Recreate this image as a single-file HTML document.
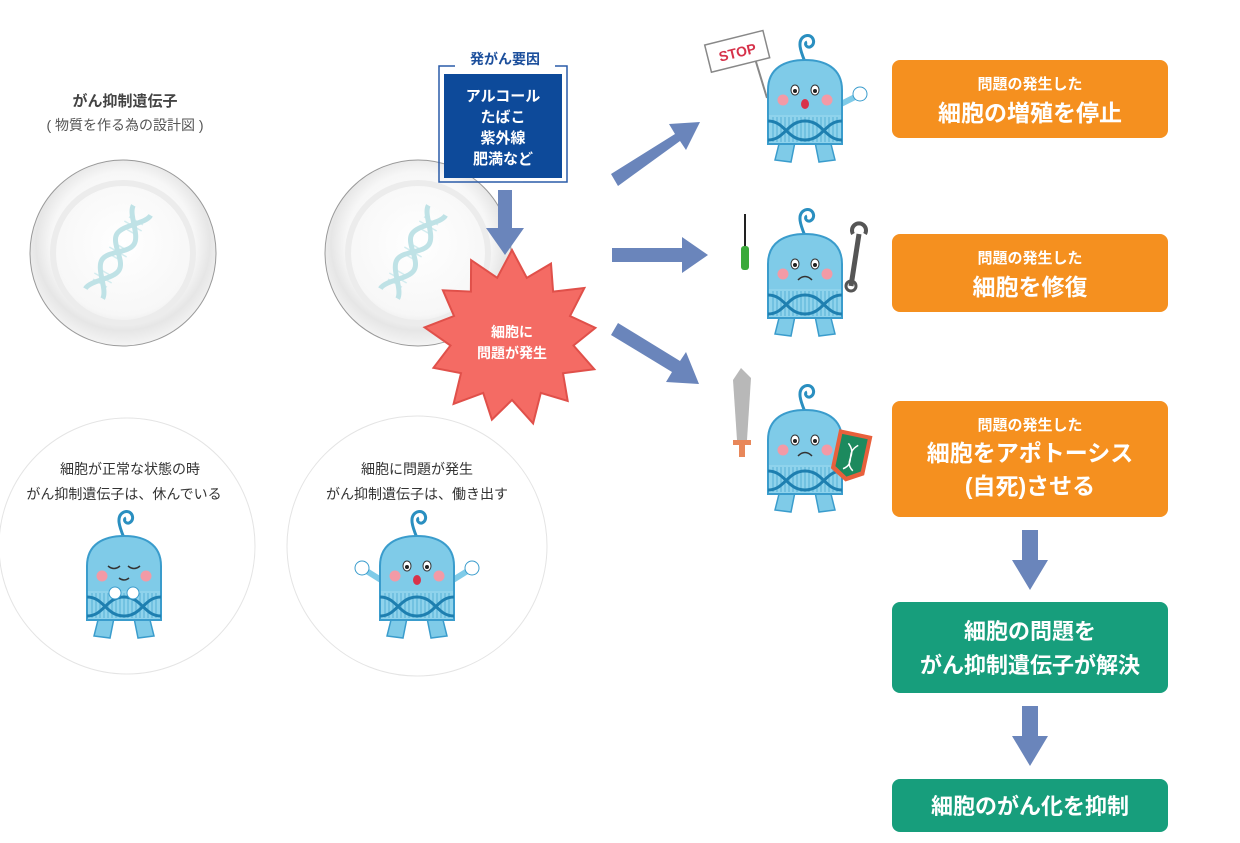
<!DOCTYPE html>
<html><head><meta charset="utf-8"><style>
html,body{margin:0;padding:0;background:#fff;}
svg{display:block;}
text{font-family:"Liberation Sans","Noto Sans CJK JP",sans-serif;}
</style></head><body>
<svg width="1240" height="843" viewBox="0 0 1240 843" xmlns="http://www.w3.org/2000/svg">
<defs>
<radialGradient id="plate" cx="50%" cy="45%" r="55%">
<stop offset="0" stop-color="#ffffff"/><stop offset="0.7" stop-color="#f7f7f7"/><stop offset="0.85" stop-color="#e6e6e6"/><stop offset="1" stop-color="#f4f4f4"/>
</radialGradient>
<g id="dna">
<g transform="rotate(30)">
<g stroke="#d3ecef" stroke-width="1.5">
<line x1="-8" y1="-36" x2="8" y2="-36"/><line x1="-10" y1="-30" x2="10" y2="-30"/><line x1="-8" y1="-24" x2="8" y2="-24"/>
<line x1="-8" y1="-6" x2="8" y2="-6"/><line x1="-10" y1="0" x2="10" y2="0"/><line x1="-8" y1="6" x2="8" y2="6"/>
<line x1="-8" y1="24" x2="8" y2="24"/><line x1="-10" y1="30" x2="10" y2="30"/><line x1="-8" y1="36" x2="8" y2="36"/></g>
<path d="M-10,-48 C-10,-38 10,-26 10,-15 C10,-4 -10,4 -10,15 C-10,26 10,38 10,48" stroke="#bfe2e6" stroke-width="5" fill="none"/>
<path d="M10,-48 C10,-38 -10,-26 -10,-15 C-10,-4 10,4 10,15 C10,26 -10,38 -10,48" stroke="#bfe2e6" stroke-width="5" fill="none"/>
</g>
</g>
<g id="body">
<path d="M0,2 C-4,-8 -9,-20 0,-24 C8,-27 12,-16 5,-13 C1,-12 -1,-17 2,-18" stroke="#2a8fc0" stroke-width="3" fill="none"/>
<path d="M-25,80 L-30,100 L-14,102 L-10,82 Z" fill="#7fcbe8" stroke="#3a9ccc" stroke-width="1.5"/>
<path d="M25,80 L30,100 L14,102 L10,82 Z" fill="#7fcbe8" stroke="#3a9ccc" stroke-width="1.5"/>
<path d="M-37,84 L-37,30 C-37,8 -20,0 0,0 C20,0 37,8 37,30 L37,84 Z" fill="#7fcbe8" stroke="#3a9ccc" stroke-width="2"/>
<rect x="-36" y="55" width="72" height="28" fill="#8fd3ec"/>
<g stroke="#5fb6da" stroke-width="1.2">
<line x1="-32" y1="57" x2="-32" y2="82"/><line x1="-28" y1="57" x2="-28" y2="82"/><line x1="-24" y1="57" x2="-24" y2="82"/><line x1="-20" y1="57" x2="-20" y2="82"/><line x1="-16" y1="57" x2="-16" y2="82"/><line x1="-12" y1="57" x2="-12" y2="82"/><line x1="-8" y1="57" x2="-8" y2="82"/><line x1="-4" y1="57" x2="-4" y2="82"/><line x1="0" y1="57" x2="0" y2="82"/><line x1="4" y1="57" x2="4" y2="82"/><line x1="8" y1="57" x2="8" y2="82"/><line x1="12" y1="57" x2="12" y2="82"/><line x1="16" y1="57" x2="16" y2="82"/><line x1="20" y1="57" x2="20" y2="82"/><line x1="24" y1="57" x2="24" y2="82"/><line x1="28" y1="57" x2="28" y2="82"/><line x1="32" y1="57" x2="32" y2="82"/></g>
<path d="M-37,61 C-20,61 -18,80 0,80 C18,80 20,61 37,61" stroke="#1e7fb0" stroke-width="3" fill="none"/>
<path d="M-37,80 C-20,80 -18,61 0,61 C18,61 20,80 37,80" stroke="#1e7fb0" stroke-width="3" fill="none"/>
<circle cx="-22" cy="40" r="5.5" fill="#f29aa6"/><circle cx="22" cy="40" r="5.5" fill="#f29aa6"/>
</g>
<g id="eyes"><ellipse cx="-10" cy="30" rx="4" ry="5" fill="#fff" stroke="#333" stroke-width="1"/><ellipse cx="10" cy="30" rx="4" ry="5" fill="#fff" stroke="#333" stroke-width="1"/><circle cx="-10" cy="31" r="2" fill="#222"/><circle cx="10" cy="31" r="2" fill="#222"/></g>
<g id="sad"><use href="#eyes"/><path d="M-7,46 Q0,39 7,46" stroke="#333" stroke-width="1.5" fill="none"/></g>
<g id="wow"><use href="#eyes"/><ellipse cx="0" cy="44" rx="4" ry="5" fill="#d8334a"/></g>
</defs>

<text x="125" y="106" font-size="15" font-weight="bold" fill="#444" text-anchor="middle">がん抑制遺伝子</text>
<text x="125" y="130" font-size="14" fill="#555" text-anchor="middle">( 物質を作る為の設計図 )</text>

<circle cx="123" cy="253" r="93" fill="url(#plate)" stroke="#999" stroke-width="1"/>
<circle cx="123" cy="253" r="70" fill="none" stroke="#ececec" stroke-width="6"/>
<use href="#dna" x="118" y="252"/>
<circle cx="418" cy="253" r="93" fill="url(#plate)" stroke="#999" stroke-width="1"/>
<circle cx="418" cy="253" r="70" fill="none" stroke="#ececec" stroke-width="6"/>
<use href="#dna" x="413" y="252"/>

<path d="M455,66 L439,66 L439,182 L567,182 L567,66 L555,66" fill="none" stroke="#2a5ba8" stroke-width="1.5"/>
<rect x="444" y="74" width="118" height="104" fill="#0d4a9a"/>
<text x="505" y="64" font-size="14" font-weight="bold" fill="#1c4f9c" text-anchor="middle">発がん要因</text>
<g font-size="15" font-weight="bold" fill="#fff" text-anchor="middle">
<text x="503" y="101">アルコール</text><text x="503" y="122">たばこ</text><text x="503" y="143">紫外線</text><text x="503" y="164">肥満など</text></g>

<g fill="#6a85bb">
<polygon points="498,190 512,190 512,228 524,228 505,255 486,228 498,228"/>
<polygon points="612,248 682,248 682,237 708,255 682,273 682,262 612,262"/>
<polygon points="611,174 675,134 669,124 700,122 686,150 680,141 618,186"/>
<polygon points="618,323 680,361 686,352 699,384 666,382 672,372 611,335"/>
<polygon points="1022,530 1038,530 1038,560 1048,560 1030,590 1012,560 1022,560"/>
<polygon points="1022,706 1038,706 1038,736 1048,736 1030,766 1012,736 1022,736"/>
</g>

<polygon id="burst" fill="#f46b64" stroke="#e0504a" stroke-width="2" points=""/>
<text x="512" y="337" font-size="14" font-weight="bold" fill="#fff" text-anchor="middle">細胞に</text>
<text x="512" y="358" font-size="14" font-weight="bold" fill="#fff" text-anchor="middle">問題が発生</text>

<circle cx="127" cy="546" r="128" fill="#fff" stroke="#e4e4e4" stroke-width="1"/>
<circle cx="417" cy="546" r="130" fill="#fff" stroke="#e4e4e4" stroke-width="1"/>
<g font-size="14" fill="#333" text-anchor="middle">
<text x="130" y="474">細胞が正常な状態の時</text><text x="124" y="499">がん抑制遺伝子は、休んでいる</text>
<text x="417" y="474">細胞に問題が発生</text><text x="417" y="499">がん抑制遺伝子は、働き出す</text></g>

<g transform="translate(124,536)">
<use href="#body"/>
<path d="M-16,30 Q-10,35 -4,30 M4,30 Q10,35 16,30" stroke="#333" stroke-width="1.5" fill="none"/>
<path d="M-5,42 Q0,46 5,42" stroke="#333" stroke-width="1.5" fill="none"/>
<circle cx="-9" cy="57" r="6" fill="#fff" stroke="#3a9ccc"/><circle cx="9" cy="57" r="6" fill="#fff" stroke="#3a9ccc"/>
</g>
<g transform="translate(417,536)">
<path d="M-36,44 L-52,34 M36,44 L52,34" stroke="#7fcbe8" stroke-width="6"/>
<circle cx="-55" cy="32" r="7" fill="#fff" stroke="#3a9ccc"/><circle cx="55" cy="32" r="7" fill="#fff" stroke="#3a9ccc"/>
<use href="#body"/><use href="#wow"/>
</g>

<g transform="translate(805,60)">
<line x1="-52" y1="-8" x2="-38" y2="38" stroke="#888" stroke-width="2"/>
<g transform="rotate(-14 -70 -5)"><rect x="-97" y="-22" width="60" height="28" fill="#fff" stroke="#888" stroke-width="1.5"/><text x="-67" y="-2" font-size="14" font-weight="bold" fill="#d6324a" text-anchor="middle">STOP</text></g>
<path d="M36,44 L52,36" stroke="#7fcbe8" stroke-width="6"/><circle cx="55" cy="34" r="7" fill="#fff" stroke="#3a9ccc"/>
<use href="#body"/><use href="#wow"/>
</g>
<g transform="translate(805,234)">
<line x1="-60" y1="-20" x2="-60" y2="12" stroke="#222" stroke-width="2"/><rect x="-64" y="12" width="8" height="24" rx="3" fill="#3aaa3a"/>
<path d="M46,52 L54,0" stroke="#555" stroke-width="5"/><path d="M48,0 A7,7 0 1 1 60,0" stroke="#555" stroke-width="4" fill="none"/><circle cx="46" cy="52" r="5" fill="none" stroke="#555" stroke-width="3"/>
<use href="#body"/><use href="#sad"/>
</g>
<g transform="translate(805,410)">
<polygon points="-72,-30 -64,-42 -54,-32 -58,30 -68,30" fill="#b8b8b8"/><rect x="-72" y="30" width="18" height="5" fill="#e8875a"/><rect x="-66" y="35" width="6" height="12" fill="#e8875a"/>
<use href="#body"/><use href="#sad"/>
<g transform="rotate(12 45 50)"><path d="M28,22 L62,22 L62,62 L45,72 L28,62 Z" fill="#e8603c"/><path d="M32,26 L58,26 L58,59 L45,67 L32,59 Z" fill="#1c8a5e"/><path d="M40,34 C52,44 38,52 50,60 M50,34 C38,44 52,52 40,60" stroke="#fff" stroke-width="1.5" fill="none"/></g>
</g>

<g fill="#f5901f">
<rect x="892" y="60" width="276" height="78" rx="8"/>
<rect x="892" y="234" width="276" height="78" rx="8"/>
<rect x="892" y="401" width="276" height="116" rx="8"/>
</g>
<g fill="#fff" text-anchor="middle" font-weight="bold">
<text x="1030" y="89" font-size="15">問題の発生した</text><text x="1030" y="121" font-size="23">細胞の増殖を停止</text>
<text x="1030" y="263" font-size="15">問題の発生した</text><text x="1030" y="295" font-size="23">細胞を修復</text>
<text x="1030" y="430" font-size="15">問題の発生した</text><text x="1030" y="461" font-size="23">細胞をアポトーシス</text><text x="1030" y="494" font-size="23">(自死)させる</text>
</g>
<g fill="#179e7c"><rect x="892" y="602" width="276" height="91" rx="8"/><rect x="892" y="779" width="276" height="53" rx="8"/></g>
<g fill="#fff" text-anchor="middle" font-weight="bold" font-size="22">
<text x="1030" y="639">細胞の問題を</text><text x="1030" y="673">がん抑制遺伝子が解決</text><text x="1030" y="814">細胞のがん化を抑制</text></g>
</svg>
<script>
(function(){var cx=512,cy=338,n=13,pts=[];for(var i=0;i<n*2;i++){var a=Math.PI*i/n-Math.PI/2;var r=i%2?62:(i%4?84:88);pts.push((cx+r*Math.cos(a)).toFixed(1)+","+(cy+r*Math.sin(a)).toFixed(1));}document.getElementById("burst").setAttribute("points",pts.join(" "));})();
</script>
</body></html>
